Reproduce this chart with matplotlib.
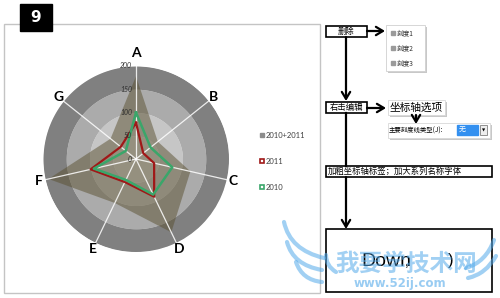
import numpy as np
import matplotlib.pyplot as plt
from matplotlib.patches import Rectangle, PathPatch
from matplotlib.path import Path

plt.rcParams['font.family'] = ['Lato', 'Noto Sans CJK SC', 'DejaVu Sans']

# radar data
categories = ['A', 'B', 'C', 'D', 'E', 'F', 'G']
v2010 = [100, 40, 80, 85, 50, 93, 28]
v2011 = [78, 20, 40, 90, 55, 100, 42]
v_sum = [178, 60, 120, 175, 105, 193, 70]
r_ticks = [0, 50, 100, 150, 200]
ring_edges = [0, 50, 100, 150, 200]
ring_colors = ['#d2d2d0', '#c6c6c6', '#ababab', '#808080']
legend_labels = ['2010+2011', '2011', '2010']
menu_items = ['刻度1', '刻度2', '刻度3']

CJK = ['Noto Sans CJK SC', 'DejaVu Sans']

fig = plt.figure(figsize=(5, 2.98), dpi=100)

# pixel overlay for frame + flowchart
ax0 = fig.add_axes([0, 0, 1, 1])
ax0.set_xlim(0, 500)
ax0.set_ylim(298, 0)
ax0.axis('off')

# chart frame and "9" tag
ax0.add_patch(Rectangle((4, 24), 316, 269, fill=False, ec='#c4c4c4', lw=1))
ax0.add_patch(Rectangle((20, 4), 32, 27, color='black'))
ax0.text(36, 17.5, '9', color='white', fontsize=11, fontweight='bold',
         ha='center', va='center', family='DejaVu Sans')

# legend
leg_y = [135, 161, 187]
ax0.add_patch(Rectangle((260, leg_y[0] - 2), 4, 4, color='#8c8c8c'))
ax0.add_patch(Rectangle((260, leg_y[1] - 2), 4, 4, fill=False, ec='#a01818', lw=1.2))
ax0.add_patch(Rectangle((260, leg_y[2] - 2), 4, 4, fill=False, ec='#3aa66a', lw=1.2))
for y, lab in zip(leg_y, legend_labels):
    ax0.text(266, y, lab, fontsize=5.5, color='#404040', va='center', ha='left')


def box(x0, y0, x1, y1, lw=1.2, shadow=False, ec='black'):
    if shadow:
        ax0.add_patch(Rectangle((x0 + 2, y0 + 2), x1 - x0, y1 - y0, color='#c8c8c8', lw=0))
    ax0.add_patch(Rectangle((x0, y0), x1 - x0, y1 - y0, fc='white', ec=ec, lw=lw))


def arrow(x0, y0, x1, y1):
    ax0.annotate('', xy=(x1, y1), xytext=(x0, y0),
                 arrowprops=dict(arrowstyle='->,head_length=0.5,head_width=0.3',
                                 lw=1.6, color='black', shrinkA=0, shrinkB=0))


# flowchart
box(326, 26, 367, 37)
ax0.text(346.5, 31.5, '删除', family=CJK, fontsize=6, ha='center', va='center')
arrow(367, 31, 385, 31)
box(386, 25, 425, 71, lw=0.6, shadow=True, ec='#d0d0d0')
for i, lab in enumerate(menu_items):
    y = 33 + i * 15
    ax0.add_patch(Rectangle((391, y - 1.8), 3.6, 3.6, color='#9a9a9a'))
    ax0.text(397, y, lab, family=CJK, fontsize=4.8, va='center', color='#303030')

arrow(346, 37, 346, 101)
box(326, 102, 367, 113)
ax0.text(346.5, 107.5, '右击编辑', family=CJK, fontsize=6, ha='center', va='center')
arrow(367, 108, 386, 108)
box(388, 100, 445, 115, lw=0.6, shadow=True, ec='#d8d8d8')
ax0.text(390, 107.5, '坐标轴选项', family=CJK, fontsize=7.7, va='center')
arrow(416, 115, 416, 124)
box(388, 123, 490, 138, lw=0.6, shadow=True, ec='#d8d8d8')
ax0.text(389, 130.5, '主要刻度线类型(J):', family=CJK, fontsize=4.6, va='center')
ax0.add_patch(Rectangle((457, 125), 21, 10, color='#3390f0'))
ax0.text(459, 130, '无', family=CJK, fontsize=5, color='white', va='center')
ax0.add_patch(Rectangle((480, 125), 7, 10, fc='#eeeeee', ec='#808080', lw=0.6))
ax0.text(483.5, 130.3, '▼', fontsize=3, ha='center', va='center', family='DejaVu Sans')

ax0.plot([346, 346], [113, 166], color='black', lw=1.6)
box(326, 166, 492, 177)
ax0.text(328, 171.5, '加粗坐标轴标签；加大系列名称字体', family=CJK, fontsize=6, va='center')
arrow(346, 177, 346, 229)
box(326, 229, 492, 292)
ax0.text(361, 262, 'Down', family='Liberation Sans', fontsize=14, va='center')
ax0.text(405, 262, ',', family='Liberation Sans', fontsize=10, va='center')
ax0.text(448, 260, ')', family='Liberation Sans', fontsize=12, va='center')

# watermark
wm = '#55aaea'
ax0.text(406, 264, '我要学技术网', family=CJK, fontsize=17, fontweight='bold',
         color=wm, alpha=0.55, ha='center', va='center')
ax0.text(400, 283, 'www.52ij.com', family='DejaVu Sans', fontsize=8.5, fontweight='bold',
         color=wm, alpha=0.6, ha='center', va='center')
wing_strokes = [
    [(284, 222), (290, 250), (324, 258)],
    [(287, 242), (293, 265), (322, 270)],
    [(296, 262), (302, 280), (322, 282)],
    [(326, 255), (326, 266), (336, 272)],
    [(494, 240), (486, 262), (466, 268)],
    [(496, 256), (486, 274), (468, 278)],
]
for pts in wing_strokes:
    p = Path(pts, [Path.MOVETO, Path.CURVE3, Path.CURVE3])
    ax0.add_patch(PathPatch(p, fill=False, ec=wm, lw=3, alpha=0.55, capstyle='round'))

# radar chart
cx, cy, R = 136, 159, 93
ax = fig.add_axes([(cx - R) / 500, (298 - cy - R) / 298, 2 * R / 500, 2 * R / 298],
                  projection='polar')
ax.set_theta_zero_location('N')
ax.set_theta_direction(-1)
ax.set_ylim(0, 200)
ax.grid(False)
ax.spines['polar'].set_visible(False)
ax.set_xticks([])
ax.set_yticks([])
ax.patch.set_alpha(0)
ax.set_clip_on(False)

theta = np.linspace(0, 2 * np.pi, 361)
for r0, r1, c in zip(ring_edges[:-1], ring_edges[1:], ring_colors):
    ax.fill_between(theta, r0, r1, color=c, lw=0, zorder=1)

angles = np.linspace(0, 2 * np.pi, len(categories), endpoint=False)
ang_c = np.append(angles, angles[0])

ax.fill(ang_c, v_sum + v_sum[:1], color='#5a5030', alpha=0.5, lw=0, zorder=2)
for a in angles:
    ax.plot([a, a], [0, 200], color='white', lw=0.9, alpha=0.85, zorder=3, clip_on=False)
ax.plot(ang_c, v2011 + v2011[:1], color='#a01818', lw=1.6, zorder=4)
ax.plot(ang_c, v2010 + v2010[:1], color='#3aa66a', lw=1.8, zorder=5)

for a, lab in zip(angles, categories):
    r = 228 if lab == 'A' else 214
    ax.text(a, r, lab, fontsize=10, fontweight='bold', ha='center', va='center',
            clip_on=False)

for t in r_ticks:
    ax.annotate(str(t), xy=(0, t), xytext=(-3, 0), textcoords='offset points',
                fontsize=5, style='italic', color='#303030', ha='right', va='center',
                zorder=6, annotation_clip=False)

fig.savefig('out.png', dpi=100)
